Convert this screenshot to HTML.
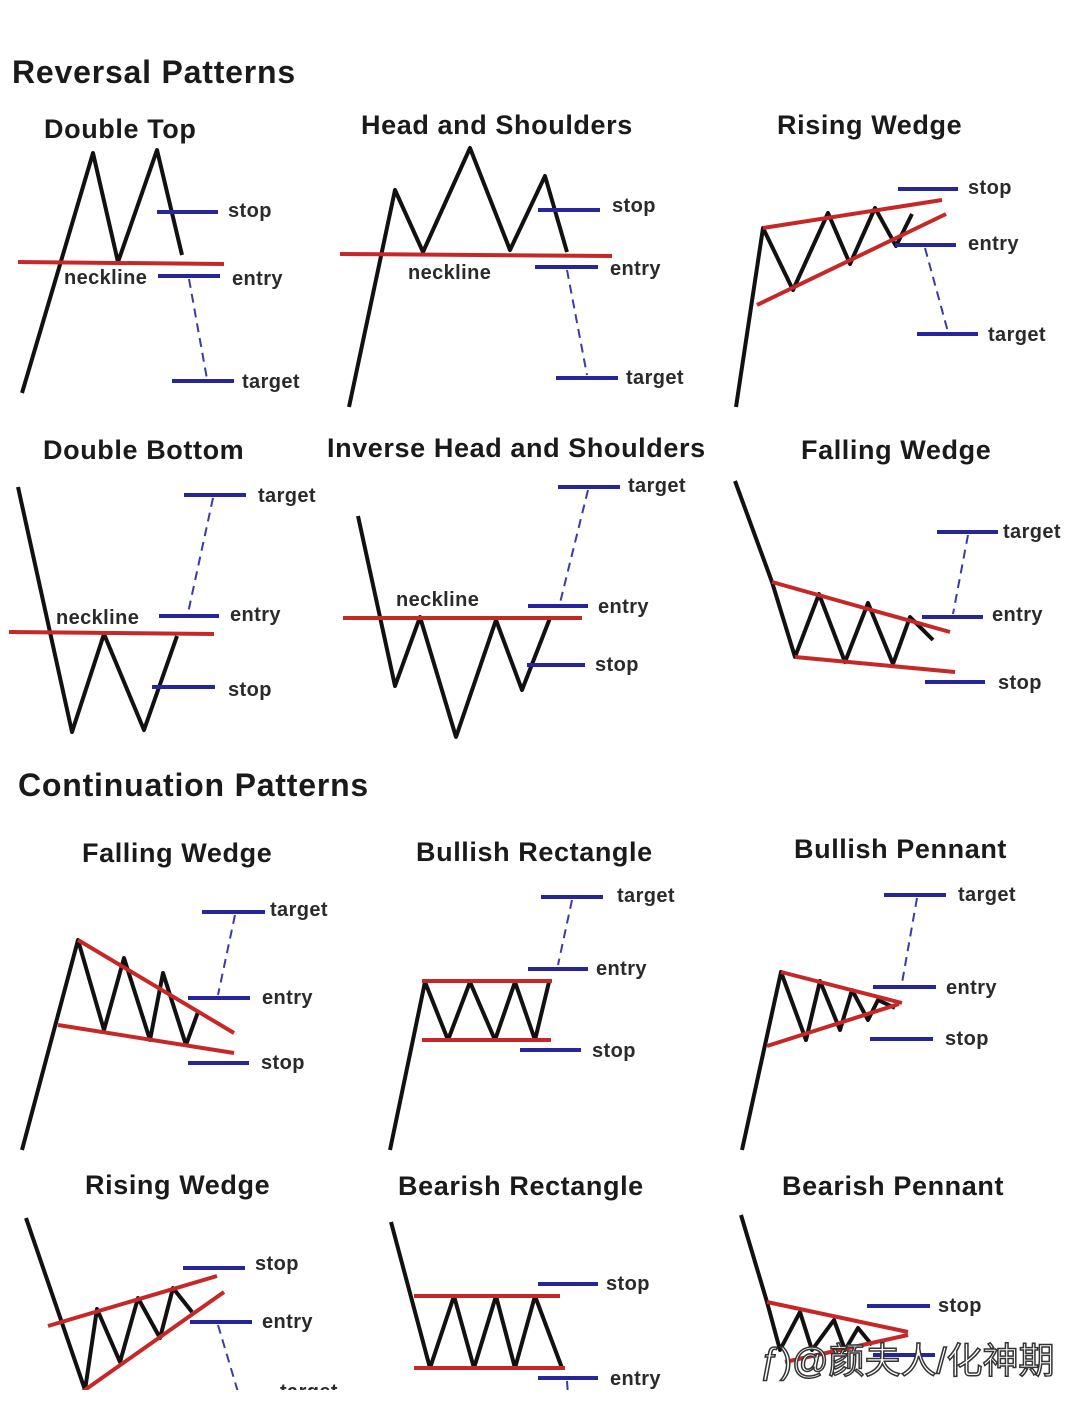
<!DOCTYPE html>
<html><head><meta charset="utf-8"><style>
html,body{margin:0;padding:0;background:#fff;}
svg{display:block}
text{font-family:"Liberation Sans",Arial,sans-serif;font-weight:bold;fill:#1a1a1a}
.t{font-size:27px;letter-spacing:0.6px}
.h{font-size:32px;letter-spacing:0.8px}
.l{font-size:20px;fill:#2a2a2a;letter-spacing:0.4px}
.k{fill:none;stroke:#111;stroke-width:4;stroke-linejoin:round}
.r{stroke:#c62828;stroke-width:4;fill:none}
.b{stroke:#26269a;stroke-width:4}
.d{stroke:#3a3aa8;stroke-width:2;stroke-dasharray:9 6}
</style></head><body>
<svg width="1080" height="1421" viewBox="0 0 1080 1421" xmlns="http://www.w3.org/2000/svg">
<defs><clipPath id="c"><rect x="0" y="0" width="1080" height="1390"/></clipPath></defs>
<g clip-path="url(#c)">
<text class="h" x="12" y="83">Reversal Patterns</text>

<text class="t" x="44" y="138">Double Top</text>
<polyline class="k" points="22,393 93,153 118,262 157,150 182,255"/>
<line class="r" x1="18" y1="262" x2="224" y2="264"/>
<line class="b" x1="157" y1="212" x2="218" y2="212"/>
<line class="b" x1="158" y1="276" x2="220" y2="276"/>
<line class="d" x1="189" y1="279" x2="207" y2="379"/>
<line class="b" x1="172" y1="381" x2="234" y2="381"/>
<text class="l" x="64" y="284">neckline</text>
<text class="l" x="228" y="217">stop</text>
<text class="l" x="232" y="285">entry</text>
<text class="l" x="242" y="388">target</text>

<text class="t" x="361" y="134">Head and Shoulders</text>
<polyline class="k" points="349,407 395,190 423,252 470,148 510,250 545,176 567,252"/>
<line class="r" x1="340" y1="254" x2="612" y2="256"/>
<line class="b" x1="538" y1="210" x2="600" y2="210"/>
<line class="b" x1="535" y1="267" x2="598" y2="267"/>
<line class="d" x1="567" y1="270" x2="587" y2="375"/>
<line class="b" x1="556" y1="378" x2="618" y2="378"/>
<text class="l" x="408" y="279">neckline</text>
<text class="l" x="612" y="212">stop</text>
<text class="l" x="610" y="275">entry</text>
<text class="l" x="626" y="384">target</text>

<text class="t" x="777" y="134">Rising Wedge</text>
<polyline class="k" points="736,407 763,228 793,290 828,213 850,264 875,208 896,246 912,214"/>
<line class="r" x1="763" y1="228" x2="942" y2="200"/>
<line class="r" x1="757" y1="305" x2="946" y2="214"/>
<line class="b" x1="898" y1="189" x2="958" y2="189"/>
<line class="b" x1="895" y1="245" x2="956" y2="245"/>
<line class="d" x1="925" y1="248" x2="948" y2="332"/>
<line class="b" x1="917" y1="334" x2="978" y2="334"/>
<text class="l" x="968" y="194">stop</text>
<text class="l" x="968" y="250">entry</text>
<text class="l" x="988" y="341">target</text>

<text class="t" x="43" y="459">Double Bottom</text>
<polyline class="k" points="18,487 72,732 104,634 144,730 177,636"/>
<line class="r" x1="9" y1="632" x2="214" y2="634"/>
<line class="b" x1="184" y1="495" x2="246" y2="495"/>
<line class="b" x1="159" y1="616" x2="219" y2="616"/>
<line class="d" x1="213" y1="498" x2="188" y2="613"/>
<line class="b" x1="152" y1="687" x2="215" y2="687"/>
<text class="l" x="258" y="502">target</text>
<text class="l" x="56" y="624">neckline</text>
<text class="l" x="230" y="621">entry</text>
<text class="l" x="228" y="696">stop</text>

<text class="t" x="327" y="457">Inverse Head and Shoulders</text>
<polyline class="k" points="358,516 395,686 420,617 456,737 496,620 522,690 550,618"/>
<line class="r" x1="343" y1="618" x2="582" y2="618"/>
<line class="b" x1="558" y1="487" x2="620" y2="487"/>
<line class="d" x1="588" y1="490" x2="560" y2="603"/>
<line class="b" x1="528" y1="606" x2="588" y2="606"/>
<line class="b" x1="527" y1="665" x2="585" y2="665"/>
<text class="l" x="628" y="492">target</text>
<text class="l" x="396" y="606">neckline</text>
<text class="l" x="598" y="613">entry</text>
<text class="l" x="595" y="671">stop</text>

<text class="t" x="801" y="459">Falling Wedge</text>
<polyline class="k" points="735,481 772,582 795,657 819,594 845,662 868,603 893,664 910,617 933,640"/>
<line class="r" x1="772" y1="582" x2="950" y2="632"/>
<line class="r" x1="795" y1="657" x2="955" y2="672"/>
<line class="b" x1="937" y1="532" x2="998" y2="532"/>
<line class="d" x1="968" y1="535" x2="953" y2="614"/>
<line class="b" x1="922" y1="617" x2="983" y2="617"/>
<line class="b" x1="925" y1="682" x2="985" y2="682"/>
<text class="l" x="1003" y="538">target</text>
<text class="l" x="992" y="621">entry</text>
<text class="l" x="998" y="689">stop</text>

<text class="h" x="18" y="796">Continuation Patterns</text>

<text class="t" x="82" y="862">Falling Wedge</text>
<polyline class="k" points="22,1150 78,940 104,1030 124,958 150,1040 163,973 186,1045 198,1012"/>
<line class="r" x1="78" y1="940" x2="234" y2="1033"/>
<line class="r" x1="58" y1="1025" x2="234" y2="1053"/>
<line class="b" x1="202" y1="912" x2="265" y2="912"/>
<line class="d" x1="235" y1="915" x2="218" y2="995"/>
<line class="b" x1="188" y1="998" x2="250" y2="998"/>
<line class="b" x1="188" y1="1063" x2="249" y2="1063"/>
<text class="l" x="270" y="916">target</text>
<text class="l" x="262" y="1004">entry</text>
<text class="l" x="261" y="1069">stop</text>

<text class="t" x="416" y="861">Bullish Rectangle</text>
<polyline class="k" points="390,1150 425,982 448,1040 470,982 495,1040 515,982 535,1040 549,982"/>
<line class="r" x1="422" y1="981" x2="552" y2="981"/>
<line class="r" x1="422" y1="1040" x2="551" y2="1040"/>
<line class="b" x1="541" y1="897" x2="603" y2="897"/>
<line class="d" x1="572" y1="900" x2="558" y2="965"/>
<line class="b" x1="528" y1="969" x2="588" y2="969"/>
<line class="b" x1="520" y1="1050" x2="581" y2="1050"/>
<text class="l" x="617" y="902">target</text>
<text class="l" x="596" y="975">entry</text>
<text class="l" x="592" y="1057">stop</text>

<text class="t" x="794" y="858">Bullish Pennant</text>
<polyline class="k" points="742,1150 781,972 806,1040 820,981 840,1030 852,990 868,1020 878,1000 895,1008"/>
<line class="r" x1="781" y1="972" x2="902" y2="1003"/>
<line class="r" x1="767" y1="1046" x2="899" y2="1004"/>
<line class="b" x1="884" y1="895" x2="946" y2="895"/>
<line class="d" x1="917" y1="898" x2="902" y2="983"/>
<line class="b" x1="873" y1="987" x2="936" y2="987"/>
<line class="b" x1="870" y1="1039" x2="933" y2="1039"/>
<text class="l" x="958" y="901">target</text>
<text class="l" x="946" y="994">entry</text>
<text class="l" x="945" y="1045">stop</text>

<text class="t" x="85" y="1194">Rising Wedge</text>
<polyline class="k" points="26,1218 85,1390 97,1309 120,1362 138,1298 160,1338 173,1288 192,1312"/>
<line class="r" x1="48" y1="1326" x2="217" y2="1276"/>
<line class="r" x1="82" y1="1392" x2="224" y2="1292"/>
<line class="b" x1="183" y1="1268" x2="245" y2="1268"/>
<line class="b" x1="190" y1="1322" x2="252" y2="1322"/>
<line class="d" x1="218" y1="1325" x2="238" y2="1392"/>
<text class="l" x="255" y="1270">stop</text>
<text class="l" x="262" y="1328">entry</text>
<text class="l" x="280" y="1398">target</text>

<text class="t" x="398" y="1195">Bearish Rectangle</text>
<polyline class="k" points="391,1222 430,1368 454,1296 474,1368 496,1296 515,1368 535,1296 562,1368"/>
<line class="r" x1="414" y1="1296" x2="560" y2="1296"/>
<line class="r" x1="414" y1="1368" x2="565" y2="1368"/>
<line class="b" x1="538" y1="1284" x2="598" y2="1284"/>
<line class="b" x1="538" y1="1378" x2="598" y2="1378"/>
<line class="d" x1="567" y1="1381" x2="568" y2="1395"/>
<text class="l" x="606" y="1290">stop</text>
<text class="l" x="610" y="1385">entry</text>

<text class="t" x="782" y="1195">Bearish Pennant</text>
<polyline class="k" points="741,1215 767,1302 780,1350 800,1312 812,1350 834,1320 845,1350 858,1328 872,1345"/>
<line class="r" x1="767" y1="1302" x2="908" y2="1332"/>
<line class="r" x1="785" y1="1362" x2="908" y2="1335"/>
<line class="b" x1="867" y1="1306" x2="930" y2="1306"/>
<line class="b" x1="873" y1="1355" x2="935" y2="1355"/>
<text class="l" x="938" y="1312">stop</text>
<text x="760" y="1373" style="font-family:'Liberation Sans','Noto Sans CJK SC',sans-serif;font-weight:normal;font-size:36px;fill:#fff;stroke:#333;stroke-width:1.5">ƒ)@颜夫人/化神期</text>
</g>
</svg>
</body></html>
